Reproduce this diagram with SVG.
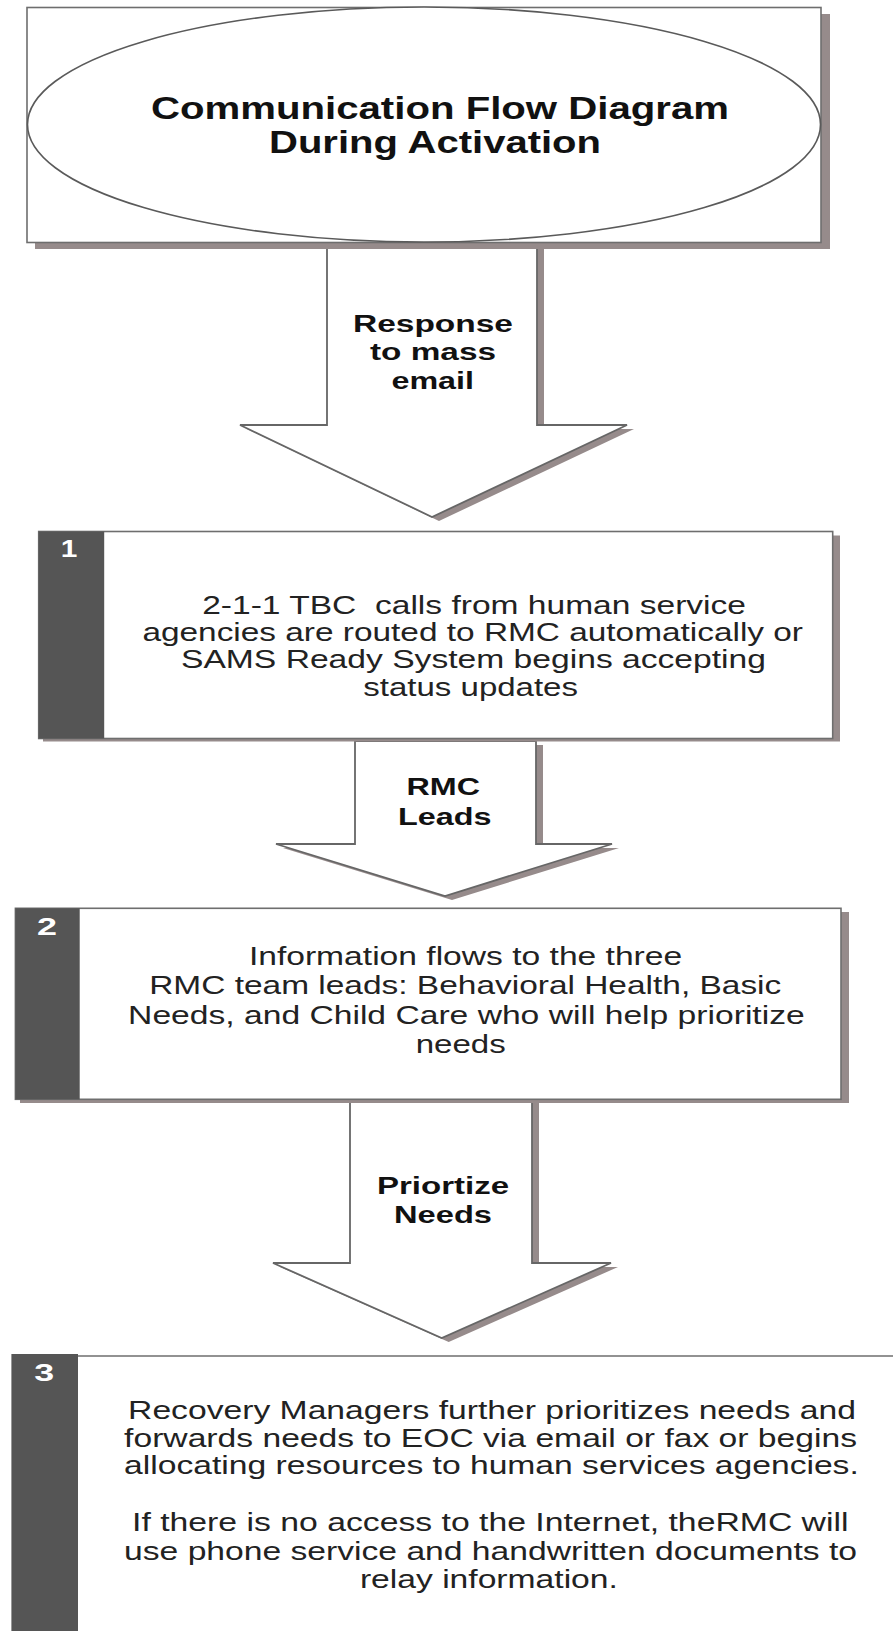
<svg xmlns="http://www.w3.org/2000/svg" width="893" height="1631" viewBox="0 0 893 1631">
  <style>
    .bg { fill: #ffffff; }
    .shadow { fill: #968b8b; stroke: none; }
    .box { fill: #ffffff; stroke: #6e6e6e; stroke-width: 1.6; }
    .tab { fill: #555555; stroke: none; }
    .arrow { fill: #ffffff; stroke: #666666; stroke-width: 1.8; stroke-linejoin: miter; }
    .title { font-family: "Liberation Sans", Arial, sans-serif; font-weight: bold; font-size: 31px; fill: #111111; }
    .lbl { font-family: "Liberation Sans", Arial, sans-serif; font-weight: bold; font-size: 23px; fill: #111111; }
    .body { font-family: "Liberation Sans", Arial, sans-serif; font-size: 26px; fill: #222222; }
    .num { font-family: "Liberation Sans", Arial, sans-serif; font-weight: bold; font-size: 23px; fill: #ffffff; }
  </style>
  <rect class="bg" x="0" y="0" width="893" height="1631"/>

  <g id="connectors">
    <g id="arrow1">
      <polygon class="shadow" points="334,246 544,246 544,429 634,429 439,521 247,429 334,429"/>
      <polygon class="arrow" points="327,242 537,242 537,425 627,425 432,517 240,425 327,425"/>
      <text class="lbl" x="353" y="332" textLength="160" lengthAdjust="spacingAndGlyphs">Response</text>
      <text class="lbl" x="370" y="359.5" textLength="126" lengthAdjust="spacingAndGlyphs">to mass</text>
      <text class="lbl" x="391.5" y="388.5" textLength="82.5" lengthAdjust="spacingAndGlyphs">email</text>
    </g>
    <g id="arrow2">
      <polygon class="shadow" points="362,745 543,745 543,848 619,848 452,900 283,848 362,848"/>
      <polygon class="arrow" points="355,741 536,741 536,844 612,844 445,896 276,844 355,844"/>
      <text class="lbl" x="406.5" y="795" textLength="73.5" lengthAdjust="spacingAndGlyphs">RMC</text>
      <text class="lbl" x="398" y="825" textLength="93.5" lengthAdjust="spacingAndGlyphs">Leads</text>
    </g>
    <g id="arrow3">
      <polygon class="shadow" points="357,1103 539,1103 539,1267 618,1267 448.7,1342 280,1267 357,1267"/>
      <polygon class="arrow" points="350,1099 532,1099 532,1263 611,1263 441.7,1338 273,1263 350,1263"/>
      <text class="lbl" x="377" y="1193.5" textLength="132" lengthAdjust="spacingAndGlyphs">Priortize</text>
      <text class="lbl" x="394" y="1222.5" textLength="98" lengthAdjust="spacingAndGlyphs">Needs</text>
    </g>
  </g>

  <g id="title-node">
    <rect class="shadow" x="35" y="14" width="795" height="235"/>
    <rect class="box" x="27" y="7.5" width="794" height="235"/>
    <ellipse cx="424" cy="124.5" rx="396.5" ry="117.5" fill="#ffffff" stroke="#5a5a5a" stroke-width="1.6"/>
    <text class="title" x="151" y="119" textLength="578" lengthAdjust="spacingAndGlyphs">Communication Flow Diagram</text>
    <text class="title" x="269" y="153" textLength="332" lengthAdjust="spacingAndGlyphs">During Activation</text>
  </g>

  <g id="step1">
    <rect class="shadow" x="43" y="535.5" width="797" height="206"/>
    <rect class="box" x="38.7" y="531.5" width="794" height="207"/>
    <rect class="tab" x="38.7" y="531.5" width="65.5" height="207"/>
    <text class="num" x="60.7" y="557" textLength="16.6" lengthAdjust="spacingAndGlyphs">1</text>
    <text class="body" x="202.2" y="613.5" textLength="543.8" lengthAdjust="spacingAndGlyphs" xml:space="preserve">2-1-1 TBC  calls from human service</text>
    <text class="body" x="142.4" y="641" textLength="660.6" lengthAdjust="spacingAndGlyphs">agencies are routed to RMC automatically or</text>
    <text class="body" x="181" y="668" textLength="585" lengthAdjust="spacingAndGlyphs">SAMS Ready System begins accepting</text>
    <text class="body" x="363.3" y="695.5" textLength="214.7" lengthAdjust="spacingAndGlyphs">status updates</text>
  </g>

  <g id="step2">
    <rect class="shadow" x="20" y="912" width="829" height="191"/>
    <rect class="box" x="15.4" y="908.3" width="825.6" height="191"/>
    <rect class="tab" x="15.4" y="908.3" width="64.3" height="191"/>
    <text class="num" x="37" y="935" textLength="20" lengthAdjust="spacingAndGlyphs">2</text>
    <text class="body" x="248.9" y="964.5" textLength="433.3" lengthAdjust="spacingAndGlyphs">Information flows to the three</text>
    <text class="body" x="149.2" y="994" textLength="632.1" lengthAdjust="spacingAndGlyphs">RMC team leads: Behavioral Health, Basic</text>
    <text class="body" x="128.1" y="1023.5" textLength="676.6" lengthAdjust="spacingAndGlyphs">Needs, and Child Care who will help prioritize</text>
    <text class="body" x="415.7" y="1053" textLength="90" lengthAdjust="spacingAndGlyphs">needs</text>
  </g>

  <g id="step3">
    <line x1="78" y1="1356" x2="893" y2="1356" stroke="#6e6e6e" stroke-width="1.6"/>
    <rect class="tab" x="11.4" y="1354" width="66.6" height="277"/>
    <text class="num" x="34.2" y="1381" textLength="19.9" lengthAdjust="spacingAndGlyphs">3</text>
    <text class="body" x="128.1" y="1419" textLength="727.8" lengthAdjust="spacingAndGlyphs">Recovery Managers further prioritizes needs and</text>
    <text class="body" x="124.1" y="1447.2" textLength="732.9" lengthAdjust="spacingAndGlyphs">forwards needs to EOC via email or fax or begins</text>
    <text class="body" x="124.1" y="1474" textLength="734.7" lengthAdjust="spacingAndGlyphs">allocating resources to human services agencies.</text>
    <text class="body" x="132.1" y="1530.5" textLength="716.4" lengthAdjust="spacingAndGlyphs">If there is no access to the Internet, theRMC will</text>
    <text class="body" x="124.1" y="1559.8" textLength="732.9" lengthAdjust="spacingAndGlyphs">use phone service and handwritten documents to</text>
    <text class="body" x="359.9" y="1587.8" textLength="258" lengthAdjust="spacingAndGlyphs">relay information.</text>
  </g>
</svg>
